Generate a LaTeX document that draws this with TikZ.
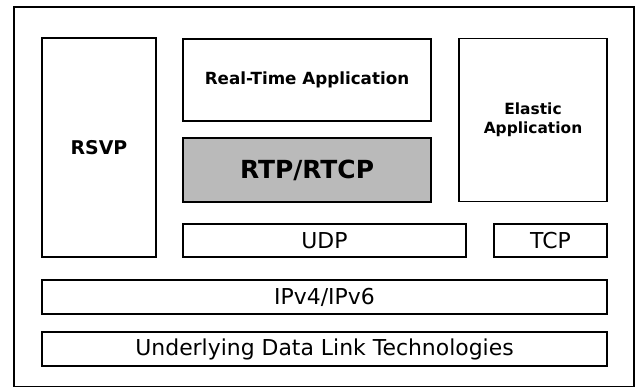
\documentclass[tikz,border=0pt]{standalone}
\usepackage{fontspec}
\setmainfont{DejaVu Sans}
\begin{document}
\begin{tikzpicture} [
  x=1bp, y=-1bp,
  layer/.style={draw, line width=1.4bp, inner sep=0pt, align=center},
  small/.style={font=\fontsize{15.5}{19}\selectfont\bfseries},
  medium/.style={font=\fontsize{22}{25}\selectfont},
  big/.style={font=\fontsize{25}{28}\selectfont\bfseries}]
\useasboundingbox (0,0) rectangle (638,388);
\draw[line width=1.2bp] (14,7) rectangle (634,386.5);
% upper layers
\node[layer, font=\fontsize{19}{22}\selectfont\bfseries,
  minimum width=114bp, minimum height=219bp] (rsvp) at (99,147.5) {RSVP};
\node[layer, small, font=\fontsize{16.8}{19}\selectfont\bfseries,
  minimum width=248bp, minimum height=82bp] (rtapp) at (307,80) {Real-Time Application};
\node[layer, big, fill=black!27, minimum width=248bp, minimum height=64bp] (rtp) at (307,170) {RTP/RTCP};
\node[layer, small, minimum width=148bp, minimum height=163bp] (elastic) at (533,120) {Elastic\\Application};
% transport
\node[layer, medium, minimum width=283bp, minimum height=33bp] (udp) at (324.5,240.5) {UDP};
\node[layer, medium, minimum width=113bp, minimum height=33bp] (tcp) at (550.5,240.5) {TCP};
% network and link
\node[layer, medium, minimum width=565bp, minimum height=34bp] (ip) at (324.5,297) {IPv4/IPv6};
\node[layer, medium, minimum width=565bp, minimum height=34bp] (link) at (324.5,349) {Underlying Data Link Technologies};
\end{tikzpicture}
\end{document}
